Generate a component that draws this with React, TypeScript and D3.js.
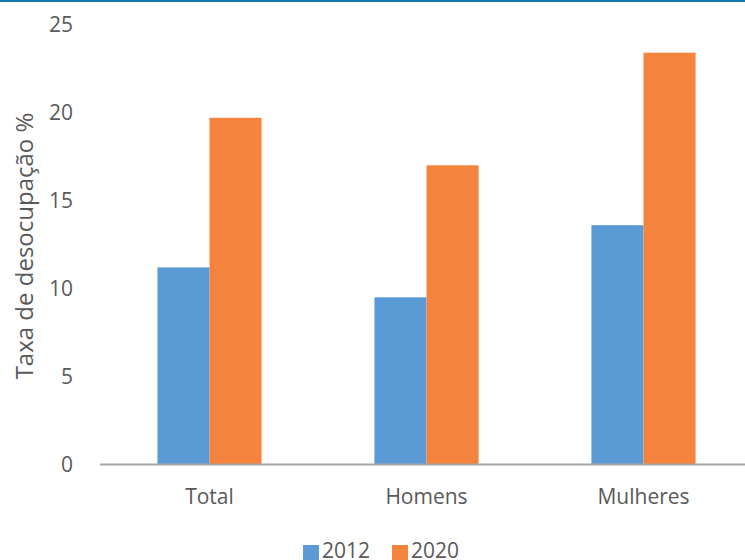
import React from "react";
import * as d3 from "d3";

const categories = ["Total", "Homens", "Mulheres"];
const seriesNames = ["2012", "2020"];
const values2012 = [11.2, 9.5, 13.6];
const values2020 = [19.7, 17.0, 23.4];
const yTicks = [0, 5, 10, 15, 20, 25];
const colors = ["#5B9BD5", "#F4833D"];

export default function App() {
  const W = 745, H = 560;
  const x = d3.scaleBand<string>().domain(categories).range([101, 752]).paddingInner(0.52).paddingOuter(0.26);
  const inner = d3.scaleBand<string>().domain(seriesNames).range([0, x.bandwidth()]);
  const y = d3.scaleLinear().domain([0, 25]).range([464.5, 24.5]);
  const series = [values2012, values2020];
  const font = "'Open Sans', sans-serif";
  const txt = "#595959";
  return (
    <svg width={W} height={H} style={{ position: "absolute", left: 0, top: 0, background: "#fff" }} fontFamily={font}>
      <rect x={0} y={0} width={W} height={2} fill="#1479B0" />
      {yTicks.map((t) => (
        <text key={t} x={73} y={y(t)} dy="0.35em" textAnchor="end" fontSize={21} fill={txt}>{t}</text>
      ))}
      <text transform={`translate(33,246) rotate(-90)`} textAnchor="middle" fontSize={24} fill={txt}>
        Taxa de desocupação %
      </text>
      {categories.map((c, i) => (
        <g key={c}>
          {series.map((s, j) => (
            <rect key={j} x={(x(c) as number) + (inner(seriesNames[j]) as number)} y={y(s[i])}
              width={inner.bandwidth()} height={y(0) - y(s[i])} fill={colors[j]} />
          ))}
          <text x={(x(c) as number) + x.bandwidth() / 2} y={504} textAnchor="middle" fontSize={21} fill={txt}>{c}</text>
        </g>
      ))}
      <line x1={100} x2={W} y1={y(0)} y2={y(0)} stroke="#A6A6A6" strokeWidth={2} />
      {seriesNames.map((n, j) => (
        <g key={n} transform={`translate(${303 + j * 89},0)`}>
          <rect x={0} y={545} width={16} height={15} fill={colors[j]} />
          <text x={19} y={558} fontSize={21} fill={txt}>{n}</text>
        </g>
      ))}
    </svg>
  );
}
